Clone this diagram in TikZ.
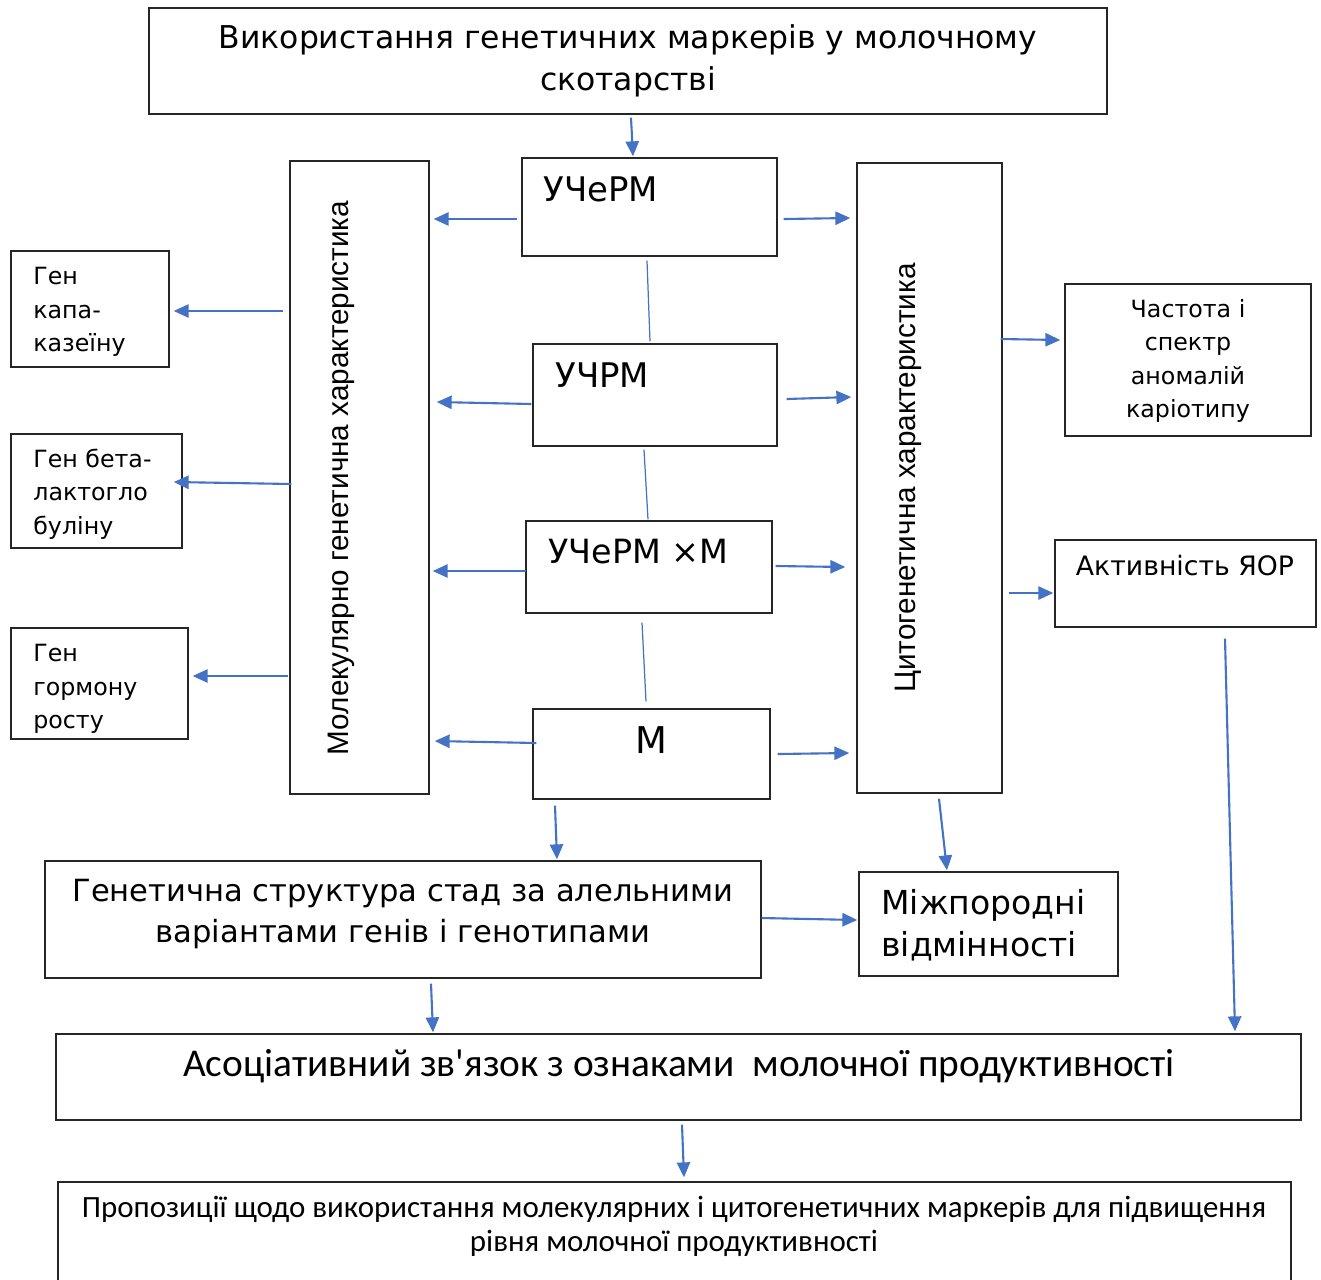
\documentclass[tikz,border=0pt]{standalone}
\usepackage{fontspec}
\usetikzlibrary{arrows.meta,fit,calc}
\newfontfamily\vdf{DejaVu Sans}
\newfontfamily\calf{Carlito}
\newfontfamily\arf{Liberation Sans}
\definecolor{arrblue}{HTML}{4472C4}
\tikzset{
  box/.style={draw=black!85, line width=0.8pt, inner sep=0pt, fill=white},
  arr/.style={draw=arrblue, line width=1.2pt, -{Triangle[length=8.5pt,width=7.5pt]}},
  lnk/.style={draw=arrblue, line width=0.7pt},
  txt/.style={inner sep=0pt, align=center},
  ltxt/.style={inner sep=0pt, align=left, anchor=west}
}
\begin{document}
\begin{tikzpicture}[x=0.02cm,y=-0.02cm]
\useasboundingbox[fill=white] (0,0) rectangle (1321,1279);
% boxes
\node[box, fit={(149,8)(1107,114)}] (top) {};
\node[box, fit={(522,158)(777,256)}] (ucherm) {};
\node[box, fit={(533,344)(777,446)}] (uchrm) {};
\node[box, fit={(526,521)(772,613)}] (uchermm) {};
\node[box, fit={(533,709)(770,799)}] (m) {};
\node[box, fit={(290,161)(429,794)}] (mol) {};
\node[box, fit={(857,163)(1002,793)}] (cyto) {};
\node[box, fit={(11,251)(169,367)}] (kapa) {};
\node[box, fit={(11,434)(182,548)}] (beta) {};
\node[box, fit={(11,628)(188,739)}] (gorm) {};
\node[box, fit={(1065,284)(1311,436)}] (chast) {};
\node[box, fit={(1055,540)(1316,627)}] (aktyv) {};
\node[box, fit={(45,861)(761,978)}] (struct) {};
\node[box, fit={(859,872)(1118,976)}] (mizh) {};
\node[box, fit={(56,1034)(1301,1120)}] (asoc) {};
\node[box, fit={(58,1182)(1291,1295)}] (prop) {};
% texts
\node[txt, font={\vdf\fontsize{17.9}{23.8}\selectfont}] (toptxt) at (628,61)
  {Використання генетичних маркерів у молочному\\скотарстві};
\node[ltxt, font={\vdf\fontsize{19.3}{20}\selectfont}] (uchermtxt) at (543,189) {УЧеРМ};
\node[ltxt, font={\vdf\fontsize{19.3}{20}\selectfont}] (uchrmtxt) at (555,375) {УЧРМ};
\node[ltxt, font={\vdf\fontsize{19}{20}\selectfont}] (uchermmtxt) at (548,552) {УЧеРМ ×М};
\node[txt, font={\vdf\fontsize{21}{22}\selectfont}] (mtxt) at (651,740) {М};
\node[txt, rotate=90, font={\arf\fontsize{16.9}{20}\selectfont}] (moltxt) at (341,478)
  {Молекулярно генетична характеристика};
\node[txt, rotate=90, font={\arf\fontsize{16.9}{20}\selectfont}] (cytotxt) at (908,478)
  {Цитогенетична характеристика};
\node[ltxt, align=left, font={\vdf\fontsize{13.5}{19}\selectfont}] (kapatxt) at (33,312)
  {Ген\\капа-\\казеїну};
\node[ltxt, align=left, font={\vdf\fontsize{13.5}{19}\selectfont}] (betatxt) at (33,494)
  {Ген бета-\\лактогло\\буліну};
\node[ltxt, align=left, font={\vdf\fontsize{13.5}{19}\selectfont}] (gormtxt) at (33,689)
  {Ген\\гормону\\росту};
\node[txt, font={\vdf\fontsize{13.5}{19}\selectfont}] (chasttxt) at (1188,361)
  {Частота і\\спектр\\аномалій\\каріотипу};
\node[txt, font={\vdf\fontsize{15.2}{18}\selectfont}] (aktyvtxt) at (1185,566) {Активність ЯОР};
\node[txt, font={\vdf\fontsize{17.4}{23.8}\selectfont}] (structtxt) at (403,914)
  {Генетична структура стад за алельними\\варіантами генів і генотипами};
\node[ltxt, align=left, font={\vdf\fontsize{18.8}{23.8}\selectfont}] (mizhtxt) at (881,925)
  {Міжпородні\\відмінності};
\node[txt, font={\calf\fontsize{22.4}{24}\selectfont}] (asoctxt) at (679,1066)
  {Асоціативний зв'язок з ознаками\ \ молочної продуктивності};
\node[txt, font={\calf\fontsize{17.6}{19.3}\selectfont}] (proptxt) at (674,1226)
  {Пропозиції щодо використання молекулярних і цитогенетичних маркерів для підвищення\\рівня молочної продуктивності};
% links (no arrow)
\draw[lnk] ($(ucherm.south -| 647,0)+(0,4)$) -- ($(uchrm.north -| 650,0)+(0,-2)$);
\draw[lnk] ($(uchrm.south -| 644,0)+(0,3)$) -- ($(uchermm.north -| 648,0)+(0,-1)$);
\draw[lnk] ($(uchermm.south -| 642,0)+(0,9)$) -- ($(m.north -| 646,0)+(0,-7)$);
% arrows
\draw[arr] ($(top.south -| 631,0)+(0,3)$) -- ($(ucherm.north -| 633,0)+(0,-1)$);
\draw[arr] ($(ucherm.west |- 0,219)+(-4,0)$) -- ($(mol.east |- 0,219)+(4,0)$);
\draw[arr] ($(ucherm.east |- 0,219)+(6,0)$) -- ($(cyto.west |- 0,218)+(-6,0)$);
\draw[arr] ($(uchrm.west |- 0,404)+(-1,0)$) -- ($(mol.east |- 0,402)+(7,0)$);
\draw[arr] ($(uchrm.east |- 0,399)+(9,0)$) -- ($(cyto.west |- 0,397)+(-5,0)$);
\draw[arr] ($(uchermm.west |- 0,571)+(1,0)$) -- ($(mol.east |- 0,571)+(3,0)$);
\draw[arr] ($(uchermm.east |- 0,566)+(3,0)$) -- ($(cyto.west |- 0,567)+(-11,0)$);
\draw[arr] ($(m.west |- 0,743)+(4,0)$) -- ($(mol.east |- 0,741)+(5,0)$);
\draw[arr] ($(m.east |- 0,754)+(7,0)$) -- ($(cyto.west |- 0,753)+(-7,0)$);
\draw[arr] ($(mol.west |- 0,311)+(-6,0)$) -- ($(kapa.east |- 0,311)+(4,0)$);
\draw[arr] ($(mol.west |- 0,484)+(2,0)$) -- ($(beta.east |- 0,482)+(-9,0)$);
\draw[arr] ($(mol.west |- 0,676)+(-1,0)$) -- ($(gorm.east |- 0,676)+(4,0)$);
\draw[arr] ($(cyto.east |- 0,339)+(-2,0)$) -- ($(chast.west |- 0,340)+(-4,0)$);
\draw[arr] ($(cyto.east |- 0,593)+(6,0)$) -- ($(aktyv.west |- 0,593)+(-1,0)$);
\draw[arr] ($(aktyv.south -| 1225,0)+(0,11)$) -- ($(asoc.north -| 1235,0)+(0,-2)$);
\draw[arr] ($(m.south -| 555,0)+(0,6)$) -- ($(struct.north -| 557,0)+(0,-1)$);
\draw[arr] ($(cyto.south -| 939,0)+(0,5)$) -- ($(mizh.north -| 947,0)+(0,-1)$);
\draw[arr] (struct.east |- 0,918) -- ($(mizh.west |- 0,920)+(-1,0)$);
\draw[arr] ($(struct.south -| 431,0)+(0,5)$) -- ($(asoc.north -| 433,0)+(0,-1)$);
\draw[arr] ($(asoc.south -| 682,0)+(0,4)$) -- ($(prop.north -| 684,0)+(0,-4)$);
\end{tikzpicture}
\end{document}
